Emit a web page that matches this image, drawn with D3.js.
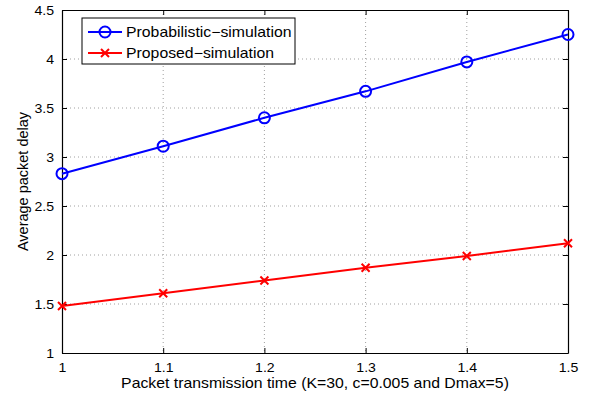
<!DOCTYPE html>
<html><head><meta charset="utf-8">
<script src="https://cdn.jsdelivr.net/npm/d3@7"></script>
<style>body{margin:0;background:#fff;} text{font-family:"Liberation Sans",Arial,sans-serif;}</style>
</head><body><svg id="c" width="597" height="399"></svg>
<script>
const xValues = [1.0, 1.1, 1.2, 1.3, 1.4, 1.5];
const probabilistic = [2.83, 3.11, 3.40, 3.67, 3.97, 4.25];
const proposed = [1.48, 1.61, 1.74, 1.87, 1.99, 2.12];
const xTicks = [1, 1.1, 1.2, 1.3, 1.4, 1.5];
const yTicks = [1, 1.5, 2, 2.5, 3, 3.5, 4, 4.5];
const seriesNames = ["Probabilistic\u2212simulation", "Proposed\u2212simulation"];

const SX = 1.13; // horizontal text stretch seen in the reference
const svg = d3.select("#c");
const L = 62, R = 568, T = 10, B = 353;
const x = d3.scaleLinear().domain([1, 1.5]).range([L, R]);
const y = d3.scaleLinear().domain([1, 4.5]).range([B, T]);

// grid
const g = svg.append("g");
g.selectAll(".gx").data(xTicks.slice(1, -1)).join("line")
  .attr("x1", d => x(d)).attr("x2", d => x(d)).attr("y1", T).attr("y2", B)
  .attr("stroke", "#888").attr("stroke-width", 0.8).attr("stroke-dasharray", "1,3");
g.selectAll(".gy").data(yTicks.slice(1, -1)).join("line")
  .attr("y1", d => y(d)).attr("y2", d => y(d)).attr("x1", L).attr("x2", R)
  .attr("stroke", "#888").attr("stroke-width", 0.8).attr("stroke-dasharray", "1,3");

// axes (ticks inward)
const fmt = d => String(d);
const axB = svg.append("g").attr("transform", `translate(0,${B})`)
  .call(d3.axisBottom(x).tickValues(xTicks).tickFormat(fmt).tickSizeInner(-5).tickSizeOuter(0).tickPadding(10));
const axT = svg.append("g").attr("transform", `translate(0,${T})`)
  .call(d3.axisTop(x).tickValues(xTicks).tickFormat("").tickSizeInner(-5).tickSizeOuter(0));
const axL = svg.append("g").attr("transform", `translate(${L},0)`)
  .call(d3.axisLeft(y).tickValues(yTicks).tickFormat(fmt).tickSizeInner(-5).tickSizeOuter(0).tickPadding(8));
const axR = svg.append("g").attr("transform", `translate(${R},0)`)
  .call(d3.axisRight(y).tickValues(yTicks).tickFormat("").tickSizeInner(-5).tickSizeOuter(0));
[axB, axT, axL, axR].forEach(a => {
  a.select(".domain").attr("stroke", "#000").attr("stroke-width", 1.2);
  a.selectAll(".tick line").attr("stroke", "#000");
  a.selectAll("text").attr("font-size", 12.5).attr("fill", "#000")
    .style("font-family", "'Liberation Sans',Arial,sans-serif");
});
axB.selectAll(".tick text").attr("transform", `scale(${SX},1)`);
axL.selectAll(".tick text").attr("x", -8 / SX).attr("transform", `scale(${SX},1)`);

// lines
const line = d3.line().x((d, i) => x(xValues[i])).y(d => y(d));
svg.append("path").datum(probabilistic).attr("d", line)
  .attr("fill", "none").attr("stroke", "#0000ff").attr("stroke-width", 2);
svg.append("path").datum(proposed).attr("d", line)
  .attr("fill", "none").attr("stroke", "#ff0000").attr("stroke-width", 2);

svg.selectAll(".pc").data(probabilistic).join("circle")
  .attr("cx", (d, i) => x(xValues[i])).attr("cy", d => y(d)).attr("r", 5.5)
  .attr("fill", "none").attr("stroke", "#0000ff").attr("stroke-width", 2);
const s = 4;
svg.selectAll(".px").data(proposed).join("path")
  .attr("transform", (d, i) => `translate(${x(xValues[i])},${y(d)})`)
  .attr("d", `M${-s},${-s}L${s},${s}M${-s},${s}L${s},${-s}`)
  .attr("stroke", "#ff0000").attr("stroke-width", 2);

// labels
svg.append("text").attr("transform", `translate(315,388) scale(${SX},1)`).attr("text-anchor", "middle")
  .attr("font-size", 14).text("Packet transmission time (K=30, c=0.005 and Dmax=5)");
svg.append("text").attr("transform", `translate(28,${(T + B) / 2}) rotate(-90)`)
  .attr("text-anchor", "middle").attr("font-size", 14.5).text("Average packet delay");

// legend
const lg = svg.append("g");
lg.append("rect").attr("x", 82).attr("y", 18).attr("width", 213).attr("height", 46)
  .attr("fill", "#fff").attr("stroke", "#000").attr("stroke-width", 1);
const items = [{c: "#0000ff", m: "o"}, {c: "#ff0000", m: "x"}];
items.forEach((it, i) => {
  const yy = 32 + i * 21;
  lg.append("line").attr("x1", 88).attr("x2", 122).attr("y1", yy).attr("y2", yy)
    .attr("stroke", it.c).attr("stroke-width", 2);
  if (it.m === "o") lg.append("circle").attr("cx", 105).attr("cy", yy).attr("r", 5.5)
    .attr("fill", "none").attr("stroke", it.c).attr("stroke-width", 2);
  else lg.append("path").attr("transform", `translate(105,${yy})`)
    .attr("d", `M${-s},${-s}L${s},${s}M${-s},${s}L${s},${-s}`).attr("stroke", it.c).attr("stroke-width", 2);
  lg.append("text").attr("transform", `translate(126,${yy + 5}) scale(${SX},1)`)
    .attr("font-size", 14).text(seriesNames[i]);
});
</script></body></html>
